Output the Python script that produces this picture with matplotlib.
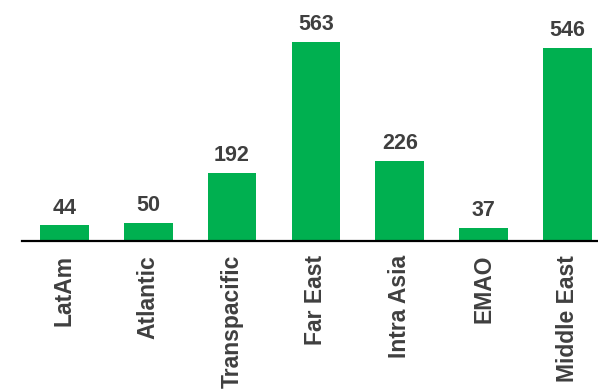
import matplotlib
matplotlib.use('Agg')
import matplotlib.pyplot as plt

# trade lanes and their volumes
lanes = ['LatAm', 'Atlantic', 'Transpacific', 'Far East', 'Intra Asia', 'EMAO', 'Middle East']
volumes = [44, 50, 192, 563, 226, 37, 546]

bar_color = '#00B050'
text_color = '#3F3F3F'

plt.rcParams['font.family'] = ['Liberation Sans', 'DejaVu Sans']

fig = plt.figure(figsize=(5.98, 3.91), dpi=100)
# axes runs a little past the right edge, so the last slot gets clipped
ax = fig.add_axes([0.0376, 0.3836, 0.9813, 0.5877])

x = range(len(lanes))
bars = ax.bar(x, volumes, width=0.58, color=bar_color)

for xi, v in zip(x, volumes):
    ax.annotate(f"{v}", (xi, v), xytext=(0, 5), textcoords='offset points',
                ha='center', va='bottom', fontsize=15.5, fontweight='bold',
                color=text_color)

ax.set_xlim(-0.5, len(lanes) - 0.5)
ax.set_ylim(0, 650)
ax.set_xticks(list(x))
ax.set_xticklabels(lanes, rotation=90, fontsize=16.5, fontweight='bold',
                   color=text_color, va='top')
ax.tick_params(axis='x', length=0, pad=10)
ax.set_yticks([])

for side in ['top', 'right', 'left']:
    ax.spines[side].set_visible(False)
ax.spines['bottom'].set_linewidth(1.6)
ax.spines['bottom'].set_color('black')

fig.savefig('out.png', dpi=100)
